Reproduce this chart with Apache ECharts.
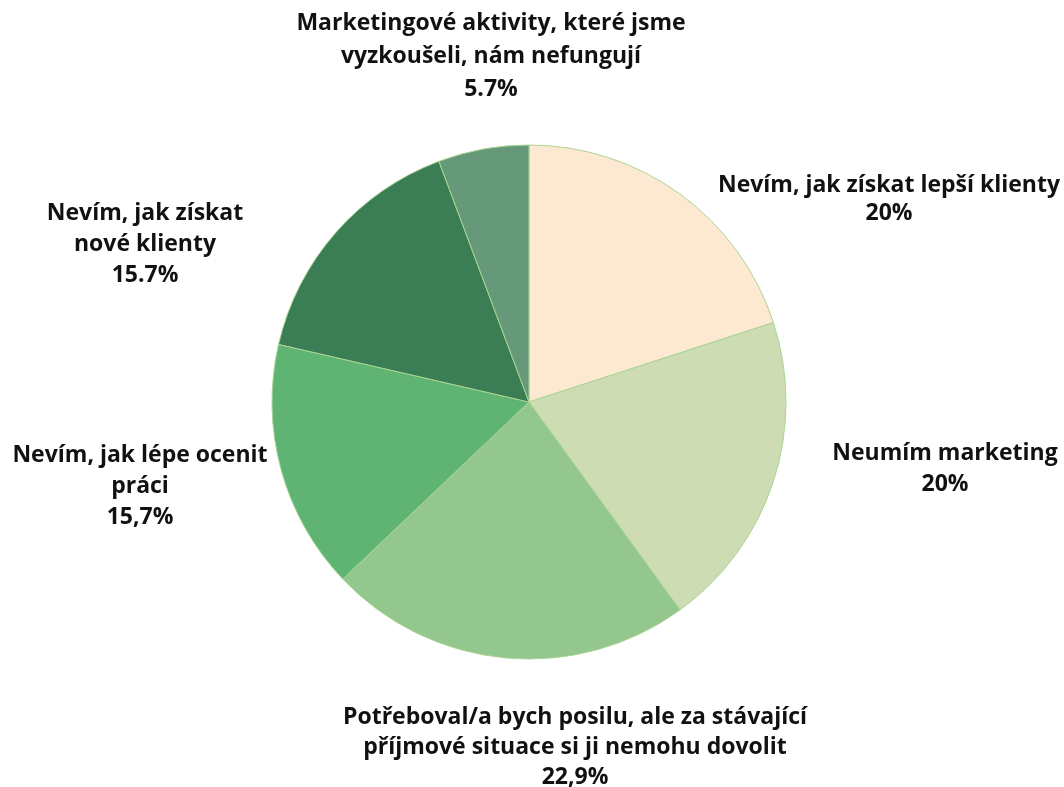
<!DOCTYPE html>
<html>
<head>
<meta charset="utf-8">
<script src="https://cdn.jsdelivr.net/npm/echarts@6/dist/echarts.min.js"></script>
<style>
  html, body { margin: 0; padding: 0; background: #fff; }
  #chart { width: 1064px; height: 787px; }
</style>
</head>
<body>
<div id="chart"></div>
<script>
// data, clockwise from 12 o'clock
var categories = [
  'Nevím, jak získat lepší klienty',
  'Neumím marketing',
  'Potřeboval/a bych posilu, ale za stávající\npříjmové situace si ji nemohu dovolit',
  'Nevím, jak lépe ocenit\npráci',
  'Nevím, jak získat\nnové klienty',
  'Marketingové aktivity, které jsme\nvyzkoušeli, nám nefungují'
];
var values = [20, 20, 22.9, 15.7, 15.7, 5.7];
var percentLabels = ['20%', '20%', '22,9%', '15,7%', '15.7%', '5.7%'];

var colors = ['#fde8d2', '#cddcb3', '#93c78e', '#5fb373', '#3b7d55', '#65997a'];
// label block centres and line spacing (layout only)
var labelPos = [[889, 199], [945, 469], [575, 747], [140, 486], [145, 244], [491, 56]];
var labelLineHeights = [28, 31, 30, 31, 31, 33];

var chart = echarts.init(document.getElementById('chart'));

var option = {
  animation: false,
  color: colors,
  series: [{
    type: 'pie',
    center: [529, 402],
    radius: 257,
    startAngle: 90,
    clockwise: true,
    data: categories.map(function (c, i) {
      return { name: c, value: values[i], label: { lineHeight: labelLineHeights[i] } };
    }),
    itemStyle: {
      borderColor: '#a9d592',
      borderWidth: 1
    },
    // labels are moved out of the pie by labelLayout below
    label: {
      show: true,
      position: 'inside',
      formatter: function (p) {
        return p.name + '\n' + percentLabels[p.dataIndex];
      },
      fontFamily: 'Open Sans',
      fontWeight: 'bold',
      fontSize: 23,
      color: '#111',
      align: 'center',
      overflow: 'none'
    },
    labelLine: { show: false },
    labelLayout: function (p) {
      var pos = labelPos[p.dataIndex];
      return {
        x: pos[0],
        y: pos[1],
        align: 'center',
        verticalAlign: 'middle',
        hideOverlap: false
      };
    }
  }]
};

chart.setOption(option);
</script>
</body>
</html>
